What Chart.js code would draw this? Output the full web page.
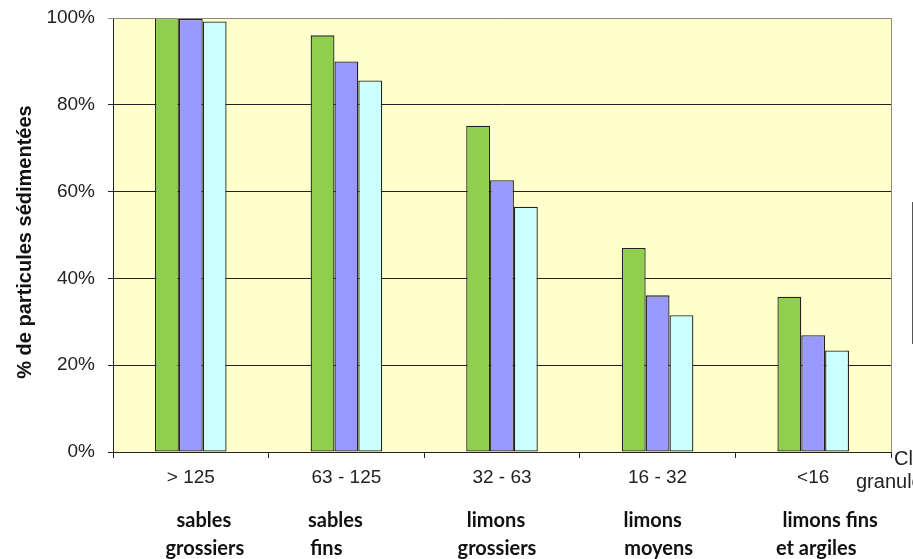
<!DOCTYPE html>
<html>
<head>
<meta charset="utf-8">
<script src="https://cdn.jsdelivr.net/npm/chart.js@4"></script>
<style>
  html, body { margin: 0; padding: 0; background: #fff; overflow: hidden; }
  #wrap { width: 913px; height: 559px; position: relative; }
</style>
</head>
<body>
<div id="wrap"><canvas id="myChart" width="913" height="559"></canvas></div>
<script>
// Data
const classes = ['> 125', '63 - 125', '32 - 63', '16 - 32', '<16'];
const classNames = [
  ['sables', 'grossiers'],
  ['sables', 'fins'],
  ['limons', 'grossiers'],
  ['limons', 'moyens'],
  ['limons fins', 'et argiles'],
];
const serieA = [100, 96.0, 75.2, 47.0, 35.8];
const serieB = [99.8, 90.0, 62.6, 36.1, 26.9];
const serieC = [99.2, 85.6, 56.5, 31.5, 23.4];
const yTicks = [0, 20, 40, 60, 80, 100];
const yTitle = '% de particules sédimentées';

// where the hand-placed class names sit, relative to category centre (line 1, line 2)
const nameShift = [[13, 14], [-11, -20], [-6, -5], [-5, 1], [17, 3]];

const barStyle = { borderColor: '#222', borderWidth: 1.3, borderSkipped: false };

// plot background, right/top frame, class names, axis titles + legend frame
const decor = {
  id: 'decor',
  beforeDraw(chart) {
    const { ctx, chartArea: a } = chart;
    ctx.save();
    ctx.fillStyle = '#FFFFCC';
    ctx.fillRect(a.left, a.top, a.right - a.left, a.bottom - a.top);
    ctx.restore();
  },
  afterDraw(chart) {
    const { ctx, chartArea: a } = chart;
    const x = chart.scales.x;
    ctx.save();
    ctx.strokeStyle = '#8a8a80';
    ctx.lineWidth = 1;
    ctx.beginPath();
    ctx.moveTo(a.left, a.top + 0.5);
    ctx.lineTo(a.right + 0.5, a.top + 0.5);
    ctx.lineTo(a.right + 0.5, a.bottom);
    ctx.stroke();

    ctx.fillStyle = '#111';
    ctx.font = 'bold 20px Lato';
    ctx.textAlign = 'center';
    ctx.textBaseline = 'middle';
    classNames.forEach((lines, i) => {
      const cx = x.getPixelForValue(i);
      ctx.fillText(lines[0], cx + nameShift[i][0], 521);
      ctx.fillText(lines[1], cx + nameShift[i][1], 549);
    });

    // y title
    ctx.save();
    ctx.translate(25, 242);
    ctx.rotate(-Math.PI / 2);
    ctx.font = 'bold 20px "Liberation Sans"';
    ctx.fillText(yTitle, 0, 0);
    ctx.restore();

    ctx.font = '20px "Liberation Sans"';
    ctx.textAlign = 'left';
    ctx.fillStyle = '#222';
    ctx.fillText('Classes', a.right + 3, 459);
    ctx.fillText('granulométriques', a.right - 35, 482);

    ctx.strokeStyle = '#555';
    ctx.strokeRect(912.5, 202.5, 120, 141);
    ctx.restore();
  },
};

const config = {
  type: 'bar',
  data: {
    labels: classes,
    datasets: [
      { label: 'A', data: serieA, backgroundColor: '#8FCF4D', ...barStyle },
      { label: 'B', data: serieB, backgroundColor: '#9999FF', ...barStyle },
      { label: 'C', data: serieC, backgroundColor: '#CCFFFF', ...barStyle },
    ],
  },
  options: {
    responsive: false,
    animation: false,
    layout: { padding: { top: 18, right: 22, left: 0, bottom: 0 } },
    datasets: { bar: { categoryPercentage: 0.46, barPercentage: 1 } },
    plugins: {
      legend: { display: false },
      tooltip: { enabled: false },
    },
    scales: {
      x: {
        offset: true,
        grid: { offset: true, drawOnChartArea: false, tickLength: 6, color: '#222' },
        border: { color: '#222', width: 1 },
        ticks: {
          color: '#222',
          padding: 8,
          font: { family: 'Liberation Sans', size: 19 },
          maxRotation: 0,
        },
        afterFit(scale) {
          scale.height = 559 - 452;
          scale.paddingLeft = 0;
          scale.paddingRight = 0;
        },
      },
      y: {
        min: 0,
        max: 100,
        afterBuildTicks(scale) { scale.ticks = yTicks.map((v) => ({ value: v })); },
        grid: {
          color: (c) => (c.tick && c.tick.value === 100 ? '#8a8a80' : '#222'),
          tickLength: 5,
        },
        border: { color: '#222', width: 1 },
        ticks: {
          color: '#222',
          padding: 13,
          font: { family: 'Liberation Sans', size: 19 },
          callback: (v) => `${v}%`,
        },
        afterFit(scale) {
          scale.width = 113;
          scale.paddingTop = 0;
          scale.paddingBottom = 0;
        },
      },
    },
  },
  plugins: [decor],
};

// Rendering the chart
const myChart = new Chart(document.getElementById('myChart'), config);
</script>
</body>
</html>
